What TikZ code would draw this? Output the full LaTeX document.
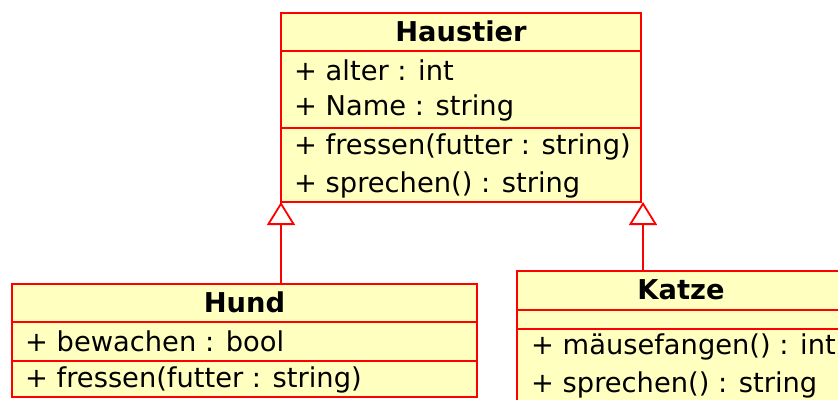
\documentclass[tikz,border=0pt]{standalone}
\usepackage{fontspec}
\setmainfont{DejaVu Sans}
\usetikzlibrary{arrows.meta}
\definecolor{umlfill}{HTML}{FFFFC0}
\definecolor{umlline}{HTML}{FF0000}
\tikzset{
  classbox/.style={draw=umlline, fill=umlfill, line width=1.8pt, inner sep=0pt, outer sep=0pt, rectangle},
  sepline/.style={draw=umlline, line width=1.8pt},
  member/.style={anchor=west, inner sep=0pt, font=\fontsize{27.3}{30}\selectfont},
  classname/.style={inner sep=0pt, font=\fontsize{27.3}{30}\selectfont\bfseries},
  inherit/.style={draw=umlline, line width=1.8pt, -{Triangle[open, length=23pt, width=28pt, line width=1.8pt]}},
}
\begin{document}
\begin{tikzpicture}[x=1pt, y=-1pt]
\useasboundingbox (0,0) rectangle (838,399);
\clip (0,0) rectangle (838,399);
% Haustier
\node[classbox, minimum width=360pt, minimum height=189pt] (haustier) at (461,107.5) {};
\draw[sepline] (281,51) -- (641,51);
\draw[sepline] (281,128) -- (641,128);
\node[classname] (hname) at (461,31) {Haustier};
\node[member] (h1) at (294,70) {+ alter : int};
\node[member] (h2) at (294,108) {+ Name : string};
\node[member] (h3) at (294,147) {+ fressen(futter : string)};
\node[member] (h4) at (294,185) {+ sprechen() : string};
% Hund
\node[classbox, minimum width=465pt, minimum height=113pt] (hund) at (244.5,340.5) {};
\draw[sepline] (12,322) -- (477,322);
\draw[sepline] (12,361) -- (477,361);
\node[classname] (hundname) at (244.5,302) {Hund};
\node[member] (d1) at (25,341) {+ bewachen : bool};
\node[member] (d2) at (25,380) {+ fressen(futter : string)};
% Katze
\node[classbox, minimum width=328pt, minimum height=160pt] (katze) at (681,351) {};
\draw[sepline] (517,310) -- (845,310);
\draw[sepline] (517,329) -- (845,329);
\node[classname] (katzename) at (681,290) {Katze};
\node[member] (k1) at (531,347) {+ mäusefangen() : int};
\node[member] (k2) at (531,385) {+ sprechen() : string};
% inheritance
\draw[inherit] (haustier.south west |- hund.north) -- (haustier.south west);
\draw[inherit] ([xshift=2pt]haustier.south east |- katze.north) -- ([xshift=2pt]haustier.south east);
\end{tikzpicture}
\end{document}
